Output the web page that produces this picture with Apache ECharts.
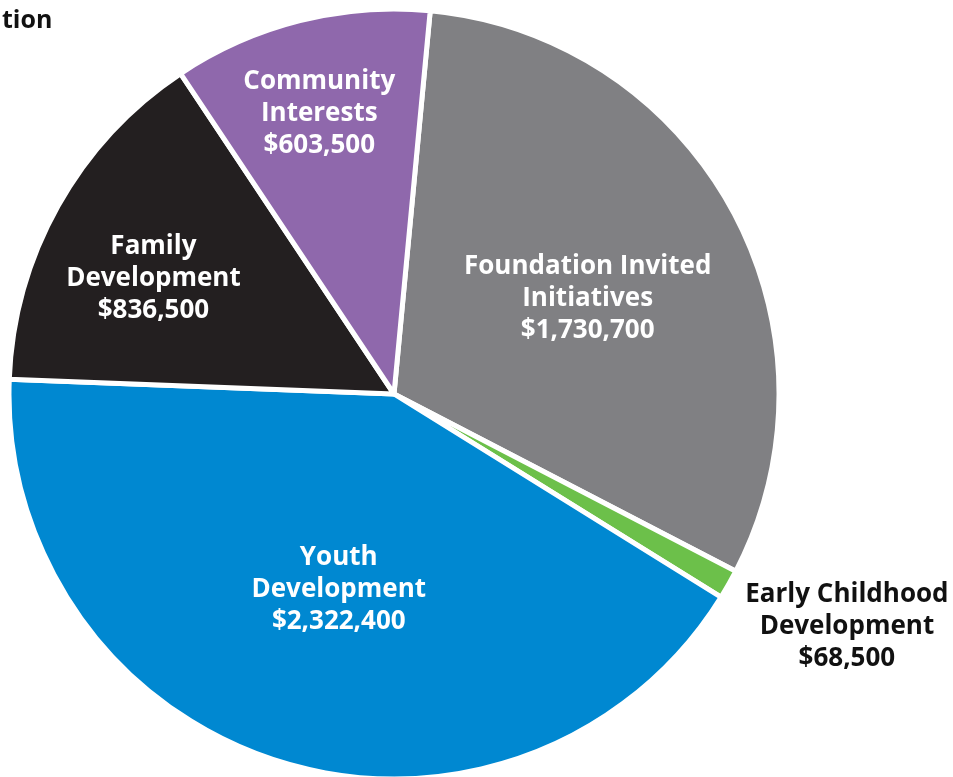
<!DOCTYPE html>
<html><head><meta charset="utf-8">
<script src="https://cdn.jsdelivr.net/npm/echarts@6/dist/echarts.min.js"></script>
<style>html,body{margin:0;padding:0;background:#fff}#c{width:953px;height:777px}</style>
</head><body><div id="c"></div>
<script>
const titleText = 'tion';
const categories = ['Foundation Invited\nInitiatives', 'Early Childhood\nDevelopment', 'Youth\nDevelopment', 'Family\nDevelopment', 'Community\nInterests'];
const values = [1730700, 68500, 2322400, 836500, 603500];
const colors = ['#808083', '#6CC04A', '#0088D1', '#231F20', '#8F68AC'];
const labelShift = [[22, -2], [283, 136], [2, 9], [-70, -20], [-27, -91]];

const fmt = v => '$' + v.toLocaleString('en-US');
const chart = echarts.init(document.getElementById('c'));
chart.setOption({
  animation: false,
  title: { text: titleText, left: -3, top: 3, textStyle: { fontFamily: 'Open Sans', fontWeight: 'bold', fontSize: 25, color: '#111' } },
  series: [{
    type: 'pie',
    center: [394, 394],
    radius: [0, 385],
    startAngle: 84.6,
    clockwise: true,
    itemStyle: { borderColor: '#fff', borderWidth: 5 },
    label: {
      show: true,
      position: 'inside',
      fontFamily: 'Open Sans',
      fontWeight: 'bold',
      fontSize: 26,
      lineHeight: 32,
      color: '#fff',
      align: 'center',
      formatter: p => p.name + '\n' + fmt(p.value)
    },
    labelLine: { show: false },
    labelLayout: p => ({ dx: labelShift[p.dataIndex][0], dy: labelShift[p.dataIndex][1] }),
    data: categories.map((n, i) => ({
      name: n, value: values[i],
      itemStyle: { color: colors[i] },
      label: i === 1 ? { color: '#111' } : {}
    }))
  }]
});
</script></body></html>
